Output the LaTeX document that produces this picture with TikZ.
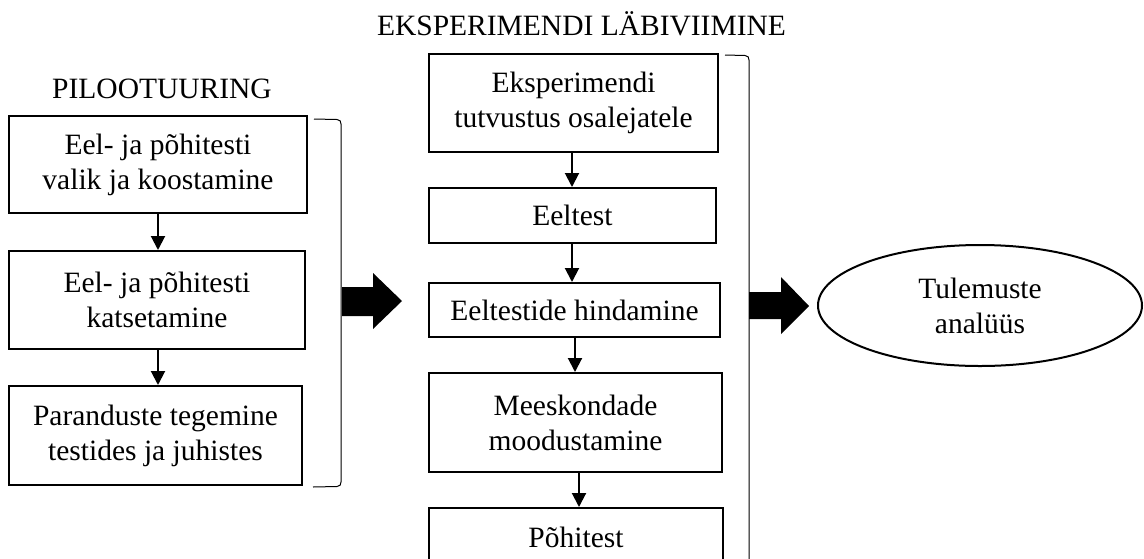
\documentclass[tikz,border=0pt]{standalone}
\usepackage{fontspec}
\setmainfont{Liberation Serif}
\usetikzlibrary{arrows.meta,shapes.geometric}
\begin{document}
\begin{tikzpicture}[x=1pt,y=-1pt,
  font=\fontsize{29.5}{35}\selectfont,
  stepbox/.style={draw,line width=2pt,align=center,inner sep=0pt},
  flow/.style={line width=2pt,-{Triangle[width=14pt,length=14pt]}},
  bracketline/.style={line width=1pt},
  bigarrow/.style={fill=black,draw=none}]
\useasboundingbox (0,0) rectangle (1144,558);
% titles
\node[anchor=base] (tpilot) at (162,98) {PILOOTUURING};
\node[anchor=base] (texp) at (581.5,35) {EKSPERIMENDI LÄBIVIIMINE};
% left column
\node[stepbox,minimum width=298pt,minimum height=97pt] (L1) at (158,164.5) {Eel- ja põhitesti\\valik ja koostamine};
\node[stepbox,minimum width=296pt,minimum height=98pt] (L2) at (157,300) {Eel- ja põhitesti\\katsetamine};
\node[stepbox,minimum width=293pt,minimum height=99pt] (L3) at (155.5,435.5) {Paranduste tegemine\\testides ja juhistes};
\draw[flow] (L1.south) -- (L1.south |- L2.north);
\draw[flow] (L1.south |- L2.south) -- (L1.south |- L3.north);
% middle column
\node[stepbox,minimum width=289pt,minimum height=98pt] (M1) at (573.5,103) {Eksperimendi\\tutvustus osalejatele};
\node[stepbox,minimum width=287pt,minimum height=55pt] (M2) at (572.5,215.5) {Eeltest};
\node[stepbox,minimum width=291pt,minimum height=54pt] (M3) at (574.5,310) {Eeltestide hindamine};
\node[stepbox,minimum width=293pt,minimum height=99pt] (M4) at (575.5,422.5) {Meeskondade\\moodustamine};
\node[stepbox,minimum width=294pt,minimum height=59pt] (M5) at (576,537.5) {Põhitest};
\coordinate (a1) at (572,152);
\coordinate (a2) at (572,243);
\coordinate (a3) at (575,337);
\coordinate (a4) at (579,472);
\draw[flow] (a1) -- (a1 |- M2.north);
\draw[flow] (a2) -- (a2 |- M3.north);
\draw[flow] (a3) -- (a3 |- M4.north);
\draw[flow] (a4) -- (a4 |- M5.north);
% brackets
\draw[bracketline] (314,119) -- (337,119.5) .. controls (340,120) and (341,121) .. (341,124)
  -- (341,482) .. controls (341,485) and (340,486) .. (337,486.5) -- (313,487);
\draw[bracketline] (725,55) -- (745,55.5) .. controls (748,56) and (749,57) .. (749,60)
  -- (749,570);
% result
\node[draw,ellipse,line width=2pt,minimum width=324pt,minimum height=121pt,inner sep=0pt,align=center] (R) at (980,305.5) {Tulemuste\\analüüs};
% big arrows
\path[bigarrow] (342,287) -- (373,287) -- (373,273) -- (402,301) -- (373,329) -- (373,316) -- (342,316) -- cycle;
\path[bigarrow] (749,292) -- (781,292) -- (781,277) -- (809,306) -- (781,334) -- (781,319) -- (749,319) -- cycle;
\end{tikzpicture}
\end{document}
